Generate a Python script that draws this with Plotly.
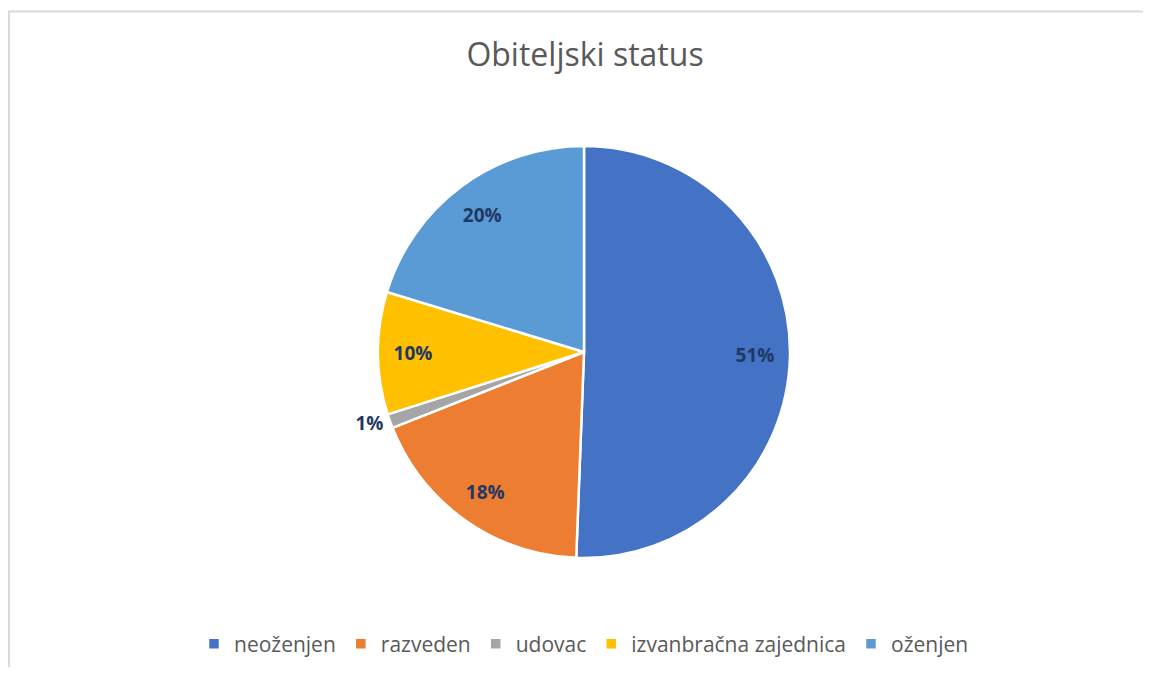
import plotly.graph_objects as go

# Page has an 8px body margin; size figure to fit window and offset coordinates.
OFF = 8
W, H = 1151 - 2 * OFF, 675 - 2 * OFF

categories = ["neoženjen", "razveden", "udovac", "izvanbračna zajednica", "oženjen"]
values = [50.6, 18.4, 1.1, 9.6, 20.3]
colors = ["#4472C4", "#ED7D31", "#A5A5A5", "#FFC000", "#5B9BD5"]

cx, cy, r = 584 - OFF, 352 - OFF, 206
dom = dict(x=[(cx - r) / W, (cx + r) / W], y=[1 - (cy + r) / H, 1 - (cy - r) / H])
label_font = dict(family="Open Sans", size=19, color="#1F3864", weight="bold")

# visible pie (only the small slice is labelled outside)
pie_main = go.Pie(
    labels=categories,
    values=values,
    sort=False,
    direction="clockwise",
    rotation=0,
    marker=dict(colors=colors, line=dict(color="white", width=2.5)),
    texttemplate=["", "", "%{percent:.0%}", "", ""],
    textposition=["none", "none", "outside", "none", "none"],
    textfont=label_font,
    domain=dom,
    hoverinfo="label+percent",
)

# transparent ring overlay to place the inside labels near the rim
pie_labels = go.Pie(
    labels=categories,
    values=values,
    sort=False,
    direction="clockwise",
    rotation=0,
    hole=0.66,
    marker=dict(colors=["rgba(0,0,0,0)"] * len(values), line=dict(width=0)),
    texttemplate=["%{percent:.0%}", "%{percent:.0%}", "", "%{percent:.0%}", "%{percent:.0%}"],
    textposition=["inside", "inside", "none", "inside", "inside"],
    insidetextorientation="horizontal",
    textfont=label_font,
    domain=dom,
    showlegend=False,
    hoverinfo="skip",
)

fig = go.Figure([pie_main, pie_labels])

top_y = 1 - (11.5 - OFF) / H
fig.update_layout(
    width=W, height=H,
    margin=dict(l=0, r=0, t=0, b=0),
    paper_bgcolor="white",
    title=dict(text="Obiteljski status", x=(585 - OFF) / W, xanchor="center", y=1 - (55 - OFF) / H,
               yanchor="middle", font=dict(family="Open Sans", size=32, color="#595959")),
    legend=dict(orientation="h", x=(584 - OFF) / W, xanchor="center", y=1 - (644 - OFF) / H,
                yanchor="middle", font=dict(family="Open Sans", size=21, color="#595959"),
                itemwidth=30, traceorder="normal"),
    font=dict(family="Open Sans"),
    shapes=[
        dict(type="line", xref="paper", yref="paper", x0=0, x1=1, y0=top_y, y1=top_y,
             line=dict(color="#D9D9D9", width=2), layer="below"),
        dict(type="line", xref="paper", yref="paper", x0=1 / W, x1=1 / W, y0=0, y1=top_y,
             line=dict(color="#D9D9D9", width=2), layer="below"),
    ],
)

fig.write_html("out.html")
